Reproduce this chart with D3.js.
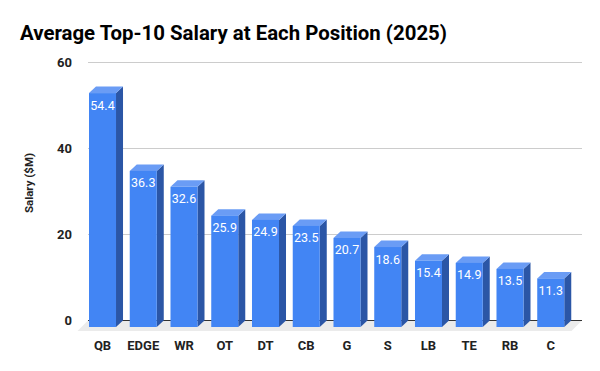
<!DOCTYPE html>
<html><head><meta charset="utf-8">
<script src="https://cdn.jsdelivr.net/npm/d3@7"></script>
<style>
html,body{margin:0;padding:0;background:#fff;}
svg{display:block;font-family:Roboto,"Noto Sans",sans-serif;}
</style></head>
<body>
<svg id="chart" width="600" height="371"></svg>
<script>
const categories = ["QB","EDGE","WR","OT","DT","CB","G","S","LB","TE","RB","C"];
const salaries = [54.4,36.3,32.6,25.9,24.9,23.5,20.7,18.6,15.4,14.9,13.5,11.3];
const yTicks = [0,20,40,60];
const titleText = "Average Top-10 Salary at Each Position (2025)";
const yTitle = "Salary ($M)";

const svg = d3.select("#chart");
const dx = 7, dy = 6.5;          // 3D depth offset (back = front + (dx,-dy))
const plotLeft = 88, plotRight = 582;

const y = d3.scaleLinear().domain([0,60]).range([320.5,62.5]);
const x = d3.scaleBand().domain(categories).range([89, 564.25]).paddingInner(0.337).paddingOuter(0);

// title
svg.append("text").attr("x",20).attr("y",39.5)
  .attr("font-size",20.4).attr("font-weight","bold").attr("fill","#000")
  .text(titleText);

// floor
const floorDepth = 10.5;
svg.append("path")
  .attr("d",`M${plotLeft},${y(0)} L${plotRight},${y(0)} L${plotRight-floorDepth},${y(0)+floorDepth} L${plotLeft-floorDepth},${y(0)+floorDepth} Z`)
  .attr("fill","#ebebeb");

// gridlines
svg.append("g").selectAll("line").data(yTicks.filter(d=>d!==0)).join("line")
  .attr("x1",plotLeft).attr("x2",plotRight)
  .attr("y1",d=>y(d)).attr("y2",d=>y(d))
  .attr("stroke","#cccccc").attr("stroke-width",1);
svg.append("line").attr("x1",plotLeft).attr("x2",plotRight)
  .attr("y1",y(0)).attr("y2",y(0)).attr("stroke","#333").attr("stroke-width",1);

// y tick labels
svg.append("g").selectAll("text").data(yTicks).join("text")
  .attr("x",72).attr("y",d=>y(d)).attr("dy","0.35em")
  .attr("text-anchor","end").attr("font-size",13).attr("font-weight","bold").attr("fill","#222")
  .text(d=>d);

// y title
svg.append("text").attr("transform",`translate(32.5,183) rotate(-90)`)
  .attr("text-anchor","middle").attr("font-size",11.5).attr("font-weight","bold").attr("fill","#222")
  .text(yTitle);

// bars
const bw = x.bandwidth();
const data = categories.map((c,i)=>({c, v:salaries[i]}));
const g = svg.append("g");
data.forEach(d=>{
  const fx = x(d.c);
  const fTop = y(d.v)+dy, fBot = y(0)+dy;
  g.append("path")
    .attr("d",`M${fx+bw},${fTop} L${fx+bw+dx},${fTop-dy} L${fx+bw+dx},${fBot-dy} L${fx+bw},${fBot} Z`)
    .attr("fill","#2b56a6");
  g.append("path")
    .attr("d",`M${fx},${fTop} L${fx+dx},${fTop-dy} L${fx+bw+dx},${fTop-dy} L${fx+bw},${fTop} Z`)
    .attr("fill","#6a9cf5");
  g.append("rect").attr("x",fx).attr("y",fTop).attr("width",bw).attr("height",fBot-fTop)
    .attr("fill","#4285f4");
  g.append("text").attr("x",fx+bw/2).attr("y",fTop+16.5)
    .attr("text-anchor","middle").attr("font-size",12.5).attr("fill","#fff")
    .text(d.v.toFixed(1));
});

// x labels
svg.append("g").selectAll("text").data(categories).join("text")
  .attr("x",d=>x(d)+bw/2).attr("y",349.5)
  .attr("text-anchor","middle").attr("font-size",13).attr("font-weight","bold").attr("fill","#222")
  .text(d=>d);
</script>
</body></html>
